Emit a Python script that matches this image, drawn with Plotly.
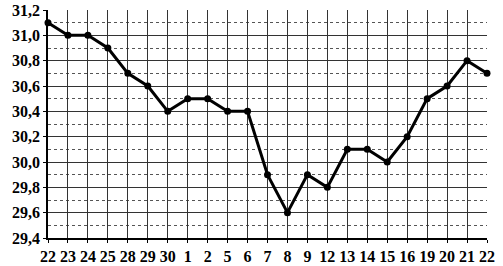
import plotly.graph_objects as go

dates = ["22", "23", "24", "25", "28", "29", "30", "1", "2", "5", "6", "7", "8",
         "9", "12", "13", "14", "15", "16", "19", "20", "21", "22"]
values = [31.1, 31.0, 31.0, 30.9, 30.7, 30.6, 30.4, 30.5, 30.5, 30.4, 30.4, 29.9,
          29.6, 29.9, 29.8, 30.1, 30.1, 30.0, 30.2, 30.5, 30.6, 30.8, 30.7]
y_ticks = [29.4, 29.6, 29.8, 30.0, 30.2, 30.4, 30.6, 30.8, 31.0, 31.2]
y_labels = [f"{v:.1f}".replace(".", ",") for v in y_ticks]

xs = list(range(len(dates)))

fig = go.Figure()
fig.add_trace(go.Scatter(
    x=xs, y=values, mode="lines+markers",
    line=dict(color="black", width=3),
    marker=dict(color="black", size=7),
    cliponaxis=False, showlegend=False,
))

font = dict(family="Liberation Serif", size=16, color="black", weight="bold")
fig.update_layout(
    width=503, height=266,
    margin=dict(l=48, r=16, t=10, b=28),
    plot_bgcolor="white", paper_bgcolor="white",
    font=font,
    xaxis=dict(
        range=[0, len(dates) - 1], tickvals=xs, ticktext=dates,
        showgrid=True, gridcolor="#333", gridwidth=1,
        showline=True, linecolor="black", linewidth=1.5,
        ticks="outside", ticklen=3, tickcolor="black",
        ticklabelstandoff=0, automargin=False,
        zeroline=False, tickfont=font,
    ),
    yaxis=dict(
        range=[29.4, 31.2], tickvals=y_ticks, ticktext=y_labels,
        showgrid=True, gridcolor="#333", gridwidth=1,
        showline=True, linecolor="black", linewidth=1.5,
        ticks="outside", ticklen=3, tickcolor="black",
        automargin=False,
        zeroline=False, tickfont=font,
        minor=dict(dtick=0.1, showgrid=True, gridcolor="#555", gridwidth=1, griddash="dot"),
    ),
)

fig.write_html("out.html")
